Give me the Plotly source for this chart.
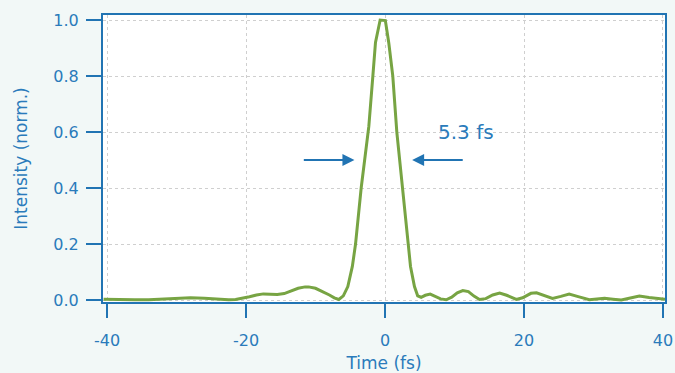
import plotly.graph_objects as go

# Autocorrelation / pulse intensity vs time
time_fs = [-40.5, -38, -36, -34, -32, -30, -28, -26, -24, -22.5, -21.5, -20.5, -19.5,
           -18.5, -17.5, -16.5, -15.5, -14.5, -13.5, -12.5, -11.5, -11, -10, -9, -8,
           -7.3, -6.65, -6, -5.35, -4.7, -4.24, -3.43, -2.95, -2.33, -1.75, -1.37,
           -0.7, 0.05, 0.55, 1.12, 1.7, 2.09, 2.47, 3.28, 3.67, 4.24, 4.7, 5.2, 5.8,
           6.5, 7.3, 8.0, 8.8, 9.6, 10.4, 11.2, 12.0, 12.8, 13.6, 14.5, 15.5, 16.5,
           17.5, 18.9, 19.8, 21.0, 21.8, 23.0, 24.1, 25.3, 26.5, 27.8, 29.4, 30.5,
           31.6, 32.8, 34.0, 35.3, 36.6, 38.0, 39.7, 40.3]
intensity = [0.003, 0.001, 0.001, 0.001, 0.003, 0.006, 0.008, 0.006, 0.003, 0.001,
             0.002, 0.006, 0.012, 0.018, 0.022, 0.021, 0.020, 0.023, 0.032, 0.042,
             0.047, 0.047, 0.042, 0.031, 0.018, 0.008, 0.002, 0.015, 0.048, 0.12,
             0.20, 0.40, 0.50, 0.62, 0.80, 0.92, 1.0, 0.998, 0.917, 0.80, 0.60,
             0.50, 0.40, 0.20, 0.12, 0.048, 0.015, 0.010, 0.017, 0.021, 0.013,
             0.004, 0.001, 0.010, 0.026, 0.034, 0.030, 0.014, 0.002, 0.005, 0.018,
             0.025, 0.017, 0.002, 0.008, 0.024, 0.026, 0.016, 0.006, 0.013, 0.021,
             0.012, 0.001, 0.004, 0.006, 0.003, 0.000, 0.007, 0.014, 0.009, 0.003,
             0.003]

x_ticks = [-40, -20, 0, 20, 40]
x_tick_labels = ["-40", "-20", "0", "20", "40"]
y_ticks = [0.0, 0.2, 0.4, 0.6, 0.8, 1.0]
y_tick_labels = ["0.0", "0.2", "0.4", "0.6", "0.8", "1.0"]

fwhm_label = "5.3 fs"
fwhm_left = -3.05
fwhm_right = 2.2
half_max = 0.5

BLUE = "#2174b3"
TEXT = "#2a7bbb"
GREEN = "#77a443"
FONT = "DejaVu Sans"

fig = go.Figure()
fig.add_trace(go.Scatter(x=time_fs, y=intensity, mode="lines",
                         line=dict(color=GREEN, width=3), showlegend=False,
                         hoverinfo="skip"))

# FWHM arrows
fig.add_annotation(x=fwhm_left - 1.35, y=half_max, ax=fwhm_left - 8.85, ay=half_max,
                   xref="x", yref="y", axref="x", ayref="y", showarrow=True,
                   arrowhead=2, arrowsize=1.2, arrowwidth=2, arrowcolor=BLUE,
                   standoff=0, startstandoff=0, text="")
fig.add_annotation(x=fwhm_right + 1.7, y=half_max, ax=fwhm_right + 9.2, ay=half_max,
                   xref="x", yref="y", axref="x", ayref="y", showarrow=True,
                   arrowhead=2, arrowsize=1.2, arrowwidth=2, arrowcolor=BLUE,
                   standoff=0, startstandoff=0, text="")
fig.add_annotation(x=11.6, y=0.60, xref="x", yref="y", text=fwhm_label,
                   showarrow=False, font=dict(family=FONT, size=20, color=TEXT))

axis_common = dict(showline=True, linecolor=BLUE, linewidth=2, mirror=True,
                   ticks="outside", tickcolor=BLUE, tickwidth=2,
                   showgrid=True, gridcolor="#cfcfcf", gridwidth=1, griddash="dot",
                   zeroline=False, automargin=False,
                   tickfont=dict(family=FONT, size=16, color=TEXT))

fig.update_xaxes(range=[-40.58, 40.29], tickvals=x_ticks, ticktext=x_tick_labels,
                 ticklen=14, ticklabelstandoff=9,
                 title=dict(text="Time (fs)", font=dict(family=FONT, size=17, color=TEXT),
                            standoff=9),
                 **axis_common)
fig.update_yaxes(range=[-0.007, 1.018], tickvals=y_ticks, ticktext=y_tick_labels,
                 ticklen=15, ticklabelstandoff=4,
                 title=dict(text="Intensity (norm.)",
                            font=dict(family=FONT, size=17, color=TEXT), standoff=21),
                 **axis_common)

fig.update_layout(width=675, height=373,
                  margin=dict(l=103, r=10, t=15, b=71),
                  paper_bgcolor="#f2f8f7", plot_bgcolor="white",
                  font=dict(family=FONT, color=TEXT))

fig.write_html("out.html", config={"displayModeBar": False},
               post_script="document.body.style.margin='0px';"
                           "document.body.style.overflow='hidden';")
